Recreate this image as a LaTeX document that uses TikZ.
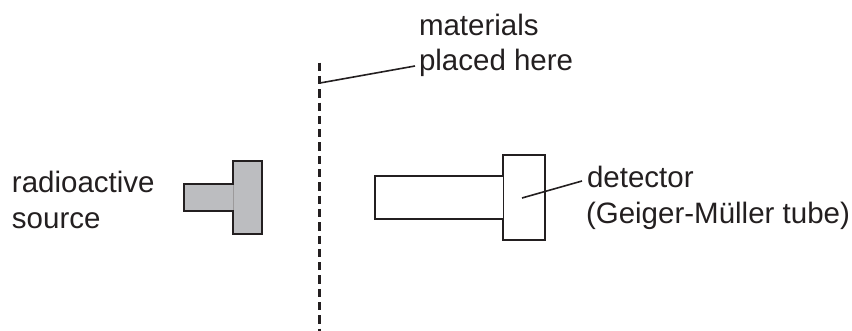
\documentclass[tikz,border=0pt]{standalone}
\usepackage{fontspec}
\setmainfont{Liberation Sans}
\definecolor{srcgray}{HTML}{BCBDC0}
\definecolor{ink}{HTML}{231F20}
\begin{document}
\begin{tikzpicture}[x=1pt,y=-1pt,
  lbl/.style={anchor=base west,inner sep=0pt,outer sep=0pt,font=\fontsize{29.5}{34}\selectfont,text=ink},
  body/.style={draw=ink,line width=2.8pt,line join=miter},
  leader/.style={draw=ink,line width=1.6pt},
  seam/.style={draw=ink,line width=0.6pt}]
\useasboundingbox (0,0) rectangle (852,331);
% source
\fill[srcgray] (184,184) rectangle (233,211);
\fill[srcgray] (233,161) rectangle (262,234);
\draw[body] (233,184) -- (184,184) -- (184,211) -- (233,211);
\draw[body] (233,161) rectangle (262,234);
\fill[srcgray] (231.5,185.4) rectangle (234.5,209.6);
\draw[seam,draw=ink!45] (233,185) -- (233,210);
% detector
\draw[body] (503,176) -- (375,176) -- (375,219) -- (503,219);
\draw[body] (503,177) -- (503,155) -- (545,155) -- (545,240) -- (503,240) -- (503,218);
\draw[seam] (503,177) -- (503,218);
% barrier
\coordinate (barTop) at (319,62.7);
\coordinate (barBot) at (319,331);
\draw[draw=ink,line width=3pt,dash pattern=on 8.3pt off 5pt] (barTop) -- (barBot);
% labels
\node[lbl] (mat) at (419,36) {materials};
\node[lbl] (placed) at (419,71) {placed here};
\node[lbl] (radio) at (12,193) {radioactive};
\node[lbl] (source) at (12,228.5) {source};
\node[lbl] (det) at (587,188) {detector};
\node[lbl] (gm) at (586,223.5) {(Geiger-Müller tube)};
% leaders
\coordinate (barHit) at (320,83);
\coordinate (detIn) at (522,198);
\draw[leader] (barHit) -- (415,66);
\draw[leader] (detIn) -- (582,181);
\end{tikzpicture}
\end{document}
